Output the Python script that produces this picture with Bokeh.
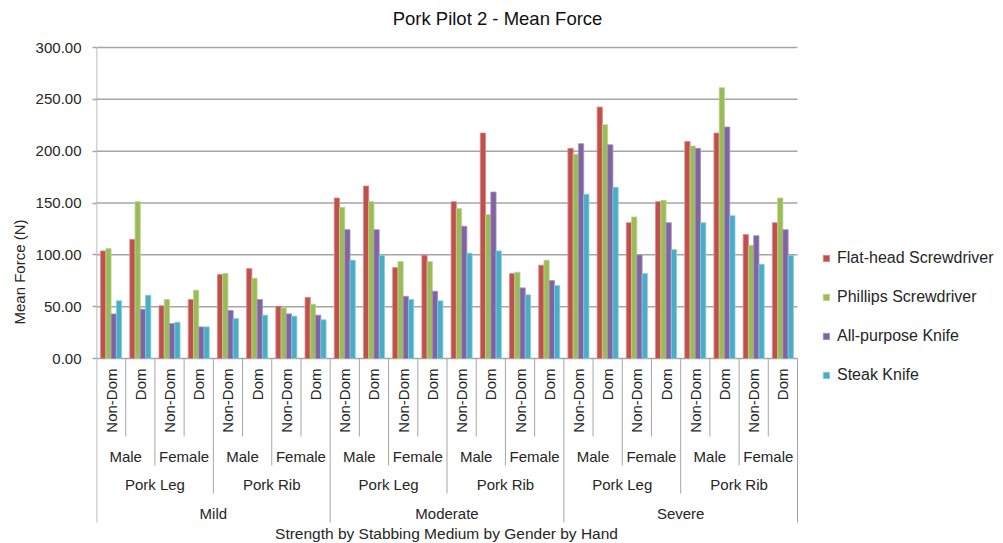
import math
from bokeh.plotting import figure
from bokeh.models import (ColumnDataSource, Range1d, FixedTicker, NumeralTickFormatter,
                          Legend, LegendItem)
from bokeh.core.properties import value
from bokeh.transform import dodge
from bokeh.embed import file_html
from bokeh.resources import INLINE

# ---------------- data ----------------
strengths = ["Mild", "Moderate", "Severe"]
mediums = ["Pork Leg", "Pork Rib"]
genders = ["Male", "Female"]
hands = ["Non-Dom", "Dom"]

series_names = ["Flat-head Screwdriver", "Phillips Screwdriver", "All-purpose Knife", "Steak Knife"]
flathead = [103.8, 115.0, 50.8, 56.9, 81.0, 86.7, 50.4, 59.0,
            154.8, 166.4, 87.7, 99.6, 151.3, 217.5, 81.9, 90.0,
            202.7, 242.5, 131.0, 151.3, 209.4, 217.5, 119.5, 131.0]
phillips = [106.0, 151.3, 56.9, 65.9, 82.0, 77.4, 48.8, 52.4,
            145.8, 151.3, 93.5, 93.5, 144.6, 138.8, 83.2, 94.8,
            197.0, 225.5, 136.5, 152.6, 205.0, 261.2, 109.2, 154.8]
allpurpose = [43.0, 47.5, 33.7, 30.5, 46.3, 56.9, 43.0, 41.8,
              124.3, 124.3, 60.0, 64.9, 127.5, 160.6, 68.1, 75.2,
              207.2, 206.2, 99.9, 131.0, 202.7, 223.3, 118.5, 124.3]
steak = [55.6, 61.0, 35.0, 30.5, 38.5, 41.8, 40.8, 37.3,
         94.8, 99.6, 56.9, 55.6, 101.5, 103.8, 61.4, 70.3,
         158.4, 165.1, 81.9, 105.0, 131.0, 137.8, 90.9, 99.6]
y_ticks = [0, 50, 100, 150, 200, 250, 300]

title_text = "Pork Pilot 2 - Mean Force"
y_label = "Mean Force (N)"
x_label = "Strength by Stabbing Medium by Gender by Hand"

# ---------------- layout constants ----------------
W, H = 1003, 543
LEFT = 96            # frame left (px)
ZERO = 358           # pixel row of y = 0
GW = (797 - 96) / 24.0   # pixels per group
ppu = 311.0 / 300.0      # pixels per data unit (vertical)
FONT = "Liberation Sans"
TXT = "#262626"
GRID = "#A6A6A6"
colors = ["#C0504D", "#9BBB59", "#8064A2", "#4BACC6"]
edge = ["#D88A88", "#BCD38F", "#A58FC0", "#86CBDD"]

def ypx(py):
    """data y for a pixel row"""
    return (ZERO - py) / ppu

def xpx(px):
    return (px - LEFT) / GW

n = len(strengths) * len(mediums) * len(genders) * len(hands)

p = figure(width=W, height=H, output_backend="svg", toolbar_location=None,
           x_range=Range1d(0, xpx(W)), y_range=Range1d(ypx(H), ypx(0)),
           min_border=0, min_border_left=LEFT,
           background_fill_color="white", border_fill_color="white")
p.outline_line_color = None
p.xgrid.visible = False
p.ygrid.visible = False
p.xaxis.visible = False

# y axis
p.yaxis.ticker = FixedTicker(ticks=y_ticks)
p.yaxis.formatter = NumeralTickFormatter(format="0.00")
p.yaxis.axis_line_color = None
p.yaxis.major_tick_line_color = GRID
p.yaxis.major_tick_line_width = 1.5
p.yaxis.major_tick_out = 4
p.yaxis.major_tick_in = 0
p.yaxis.minor_tick_line_color = None
p.yaxis.major_label_standoff = 11
p.yaxis.major_label_text_font = FONT
p.yaxis.major_label_text_font_size = "15px"
p.yaxis.major_label_text_color = TXT
p.yaxis.axis_label = y_label
p.yaxis.axis_label_standoff = 5
p.yaxis.axis_label_text_font = FONT
p.yaxis.axis_label_text_font_size = "15px"
p.yaxis.axis_label_text_font_style = "normal"
p.yaxis.axis_label_text_color = TXT

# horizontal gridlines (over the 24 groups only)
p.segment(x0=[0] * len(y_ticks), y0=y_ticks, x1=[n] * len(y_ticks), y1=y_ticks,
          line_color=GRID, line_width=1.5)

# bars
src = ColumnDataSource(dict(x=[i + 0.5 for i in range(n)], s0=flathead, s1=phillips,
                            s2=allpurpose, s3=steak))
offsets = [-0.27, -0.09, 0.09, 0.27]
renderers = []
for k in range(4):
    r = p.vbar(x=dodge("x", offsets[k], range=p.x_range), top="s%d" % k, bottom=0,
               width=0.18, source=src, fill_color=colors[k], line_color=edge[k], line_width=0.8)
    renderers.append(r)

# category labels
hand_x, hand_t = [], []
gender_x, gender_t = [], []
medium_x, medium_t = [], []
strength_x, strength_t = [], []
i = 0
for s in strengths:
    strength_x.append(i + 4)
    strength_t.append(s)
    for m in mediums:
        medium_x.append(i + 2)
        medium_t.append(m)
        for g in genders:
            gender_x.append(i + 1)
            gender_t.append(g)
            for h in hands:
                hand_x.append(i + 0.5)
                hand_t.append(h)
                i += 1

common = dict(text_font=value(FONT), text_font_size="15px", text_color=TXT)
p.text(x=hand_x, y=[ypx(368)] * len(hand_x), text=hand_t, angle=math.pi / 2,
       text_align="right", text_baseline="middle", **common)
p.text(x=gender_x, y=[ypx(456)] * len(gender_x), text=gender_t,
       text_align="center", text_baseline="middle", **common)
p.text(x=medium_x, y=[ypx(484)] * len(medium_x), text=medium_t,
       text_align="center", text_baseline="middle", **common)
p.text(x=strength_x, y=[ypx(513)] * len(strength_x), text=strength_t,
       text_align="center", text_baseline="middle", **common)

# title and x axis title
p.text(x=[xpx(497)], y=[ypx(18)], text=[title_text], text_align="center",
       text_baseline="middle", text_font=value(FONT), text_font_size="18.5px", text_color="#111111")
p.text(x=[xpx(446)], y=[ypx(533)], text=[x_label], text_align="center",
       text_baseline="middle", text_font=value(FONT), text_font_size="15.5px", text_color=TXT)

# vertical separators (x = 0 also serves as the value axis line)
sx, sy0, sy1 = [], [], []
for b in range(n + 1):
    if b % 8 == 0:
        d = 522
    elif b % 4 == 0:
        d = 493
    elif b % 2 == 0:
        d = 465
    else:
        d = 436
    sx.append(b)
    sy0.append(300 if b == 0 else 0)
    sy1.append(ypx(d))
p.segment(x0=sx, y0=sy0, x1=sx, y1=sy1, line_color=GRID,
          line_width=[1.5 if b == 0 else 1 for b in range(n + 1)])

# legend (inside the frame, right of the groups)
legend = Legend(items=[LegendItem(label=series_names[k], renderers=[renderers[k]]) for k in range(4)],
                location=(822 - LEFT, H - 384), orientation="vertical", border_line_color=None,
                background_fill_alpha=0, padding=0, margin=0, spacing=21,
                glyph_width=8, glyph_height=8, label_height=17, label_standoff=7,
                label_text_font=FONT, label_text_font_size="16px", label_text_color=TXT)
p.add_layout(legend, "center")

open("out.html", "w").write(file_html(p, INLINE))
